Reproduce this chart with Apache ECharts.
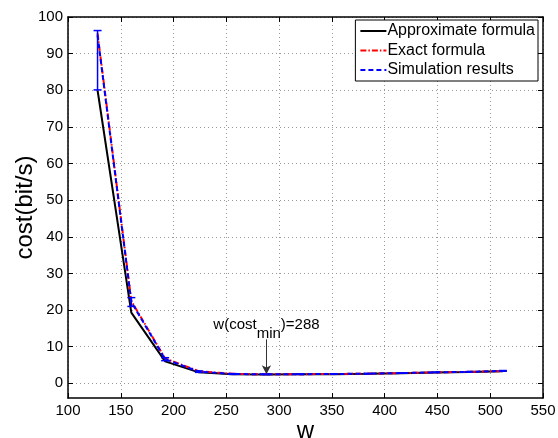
<!DOCTYPE html>
<html>
<head>
<meta charset="utf-8">
<script src="https://cdn.jsdelivr.net/npm/echarts@6/dist/echarts.min.js"></script>
<style>
  html, body { margin: 0; padding: 0; background: #fff; }
  #chart { width: 558px; height: 438px; }
</style>
</head>
<body>
<div id="chart"></div>
<script>
var wValues = [128, 160, 192, 224, 256, 288, 320, 352, 384, 416, 448, 480, 512];
var approxCost = [80, 19.3, 6.0, 3.0, 2.5, 2.4, 2.45, 2.5, 2.6, 2.75, 2.95, 3.1, 3.3];
var exactCost = [95.5, 22.5, 6.8, 3.3, 2.6, 2.45, 2.5, 2.55, 2.65, 2.8, 3.0, 3.15, 3.35];
var simCost = [95, 22.2, 6.6, 3.2, 2.55, 2.45, 2.5, 2.55, 2.65, 2.8, 3.0, 3.15, 3.4];
var simLow = [80.1, 21.0, 6.2, 3.0, 2.45, 2.4, 2.45, 2.5, 2.6, 2.75, 2.95, 3.1, 3.3];
var simHigh = [96.3, 23.4, 7.0, 3.4, 2.65, 2.5, 2.55, 2.6, 2.7, 2.85, 3.05, 3.2, 3.5];
var yTicks = [0, 10, 20, 30, 40, 50, 60, 70, 80, 90, 100];
var wMin = 288;

var font = 'Liberation Sans, Arial, sans-serif';

function pairs(ys) {
    return wValues.map(function (w, i) { return [w, ys[i]]; });
}

var errData = wValues.map(function (w, i) { return [w, simLow[i], simHigh[i]]; });

var chart = echarts.init(document.getElementById('chart'));

var option = {
    animation: false,
    backgroundColor: '#fff',
    textStyle: { fontFamily: font },
    grid: { left: 68, right: 15, top: 17, bottom: 40, outerBoundsMode: 'none' },
    legend: {
        orient: 'vertical',
        right: 20,
        top: 20,
        backgroundColor: '#fff',
        borderColor: '#000',
        borderWidth: 1,
        borderRadius: 0,
        padding: [3, 3, 3, 4],
        itemWidth: 26,
        itemHeight: 10,
        itemGap: 3.5,
        itemStyle: { opacity: 0 },
        textStyle: { fontSize: 16, color: '#000', padding: [0, 0, 0, -4] },
        data: ['Approximate formula', 'Exact formula', 'Simulation results']
    },
    xAxis: [{
        type: 'value',
        min: 100, max: 550, interval: 50,
        name: 'w',
        nameLocation: 'middle',
        nameGap: 21,
        nameMoveOverlap: false,
        nameTextStyle: { fontSize: 24, color: '#000' },
        axisLine: { onZero: false, lineStyle: { color: '#000', width: 1.5 } },
        axisTick: { inside: true, length: 5, lineStyle: { color: '#000' } },
        axisLabel: { fontSize: 15, color: '#000', margin: 5 },
        splitLine: { show: true, lineStyle: { color: '#999', type: [1, 3] } }
    }, {
        type: 'value', position: 'top',
        min: 100, max: 550, interval: 50,
        axisLine: { onZero: false, lineStyle: { color: '#000', width: 1.5 } },
        axisTick: { inside: true, length: 5, lineStyle: { color: '#000' } },
        axisLabel: { show: false },
        splitLine: { show: false }
    }],
    yAxis: [{
        type: 'value',
        min: -4, max: 100,
        name: 'cost(bit/s)',
        nameLocation: 'middle',
        nameGap: 31,
        nameMoveOverlap: false,
        nameTextStyle: { fontSize: 24, color: '#000' },
        axisLine: { show: true, onZero: false, lineStyle: { color: '#000', width: 1.5 } },
        axisTick: { show: true, inside: true, length: 5, customValues: yTicks, lineStyle: { color: '#000' } },
        axisLabel: { fontSize: 15, color: '#000', margin: 5, customValues: yTicks },
        splitLine: { show: true, lineStyle: { color: '#999', type: [1, 3] } }
    }, {
        type: 'value', position: 'right',
        min: -4, max: 100,
        axisLine: { show: true, onZero: false, lineStyle: { color: '#000', width: 1.5 } },
        axisTick: { show: true, inside: true, length: 5, customValues: yTicks, lineStyle: { color: '#000' } },
        axisLabel: { show: false, customValues: yTicks },
        splitLine: { show: false }
    }],
    series: [{
        name: 'Approximate formula',
        type: 'line',
        data: pairs(approxCost),
        symbol: 'none',
        color: '#000',
        lineStyle: { color: '#000', width: 2, type: 'solid' },
        z: 3
    }, {
        name: 'Exact formula',
        type: 'line',
        data: pairs(exactCost),
        symbol: 'none',
        color: '#ff0000',
        lineStyle: { color: '#ff0000', width: 2, type: [6, 2, 1.5, 2] },
        z: 4
    }, {
        name: 'Simulation results',
        type: 'line',
        data: pairs(simCost),
        symbol: 'none',
        color: '#0000ff',
        lineStyle: { color: '#0000ff', width: 2, type: [5, 3] },
        z: 5,
        markLine: {
            silent: true,
            symbol: ['none', 'arrow'],
            symbolSize: [7, 9],
            label: { show: false },
            lineStyle: { color: '#333', width: 1, type: 'solid' },
            data: [[{ coord: [wMin, 12] }, { coord: [wMin, 2.5] }]]
        },
        markPoint: {
            silent: true,
            symbol: 'circle',
            symbolSize: 0,
            data: [{ coord: [wMin, 17] }],
            label: {
                show: true,
                position: 'inside',
                offset: [0, 4],
                formatter: '{a|w(cost}{b|min}{a|)=288}',
                rich: {
                    a: { fontSize: 15, color: '#000', fontFamily: font },
                    b: { fontSize: 15, color: '#000', fontFamily: font, padding: [18, 0, 0, 0] }
                }
            }
        }
    }, {
        name: 'Simulation results',
        type: 'custom',
        data: errData,
        z: 6,
        renderItem: function (params, api) {
            var x = api.value(0);
            var lo = api.coord([x, api.value(1)]);
            var hi = api.coord([x, api.value(2)]);
            var cap = 4;
            var st = { stroke: '#0000ff', lineWidth: 1.5 };
            return {
                type: 'group',
                children: [
                    { type: 'line', shape: { x1: lo[0], y1: lo[1], x2: hi[0], y2: hi[1] }, style: st },
                    { type: 'line', shape: { x1: lo[0] - cap, y1: lo[1], x2: lo[0] + cap, y2: lo[1] }, style: st },
                    { type: 'line', shape: { x1: hi[0] - cap, y1: hi[1], x2: hi[0] + cap, y2: hi[1] }, style: st }
                ]
            };
        }
    }]
};

chart.setOption(option);
</script>
</body>
</html>
